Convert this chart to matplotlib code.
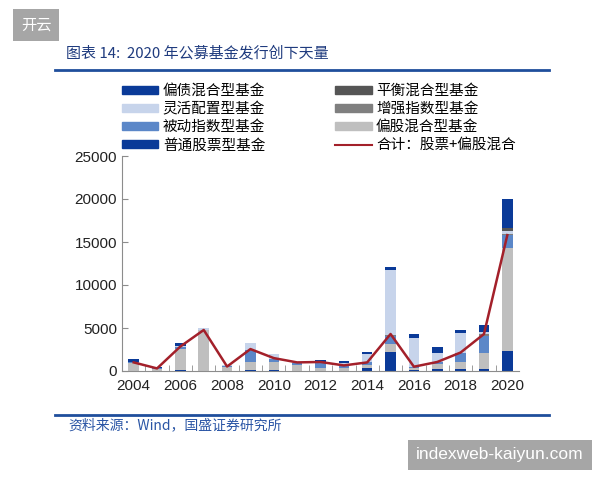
import numpy as np
import matplotlib
matplotlib.use("Agg")
import matplotlib.pyplot as plt
from matplotlib.patches import Patch
from matplotlib.lines import Line2D

plt.rcParams['font.family'] = ['Noto Sans CJK SC', 'DejaVu Sans']

years = np.arange(2004, 2021)

# 发行规模（亿份），自下而上堆叠
stock = [50, 0, 100, 50, 0, 150, 100, 0, 50, 50, 400, 2250, 150, 250, 250, 250, 2330]
equity_mix = [850, 200, 2450, 4700, 500, 950, 900, 650, 300, 300, 300, 850, 150, 550, 800, 1900, 12000]
passive_idx = [200, 100, 200, 0, 50, 1300, 400, 300, 700, 300, 300, 1000, 200, 300, 1050, 1950, 1460]
enhanced_idx = [0, 0, 0, 0, 0, 0, 0, 0, 0, 0, 0, 100, 0, 0, 0, 150, 100]
flexible = [0, 0, 100, 250, 150, 800, 600, 100, 0, 300, 1000, 7550, 3300, 950, 2350, 300, 400]
balanced = [0, 0, 0, 0, 0, 0, 0, 0, 0, 0, 0, 0, 0, 0, 0, 0, 300]
bond_mix = [250, 200, 400, 0, 0, 0, 0, 0, 250, 200, 250, 350, 500, 700, 350, 750, 3400]
total_line = [1000, 300, 2850, 4770, 520, 2550, 1500, 1000, 1050, 650, 1000, 4300, 500, 1050, 2150, 4300, 15800]

names = ['普通股票型基金', '偏股混合型基金', '被动指数型基金', '增强指数型基金',
         '灵活配置型基金', '平衡混合型基金', '偏债混合型基金']
series = [stock, equity_mix, passive_idx, enhanced_idx, flexible, balanced, bond_mix]
colors = ['#0A3A98', '#BFBFBF', '#5B87C8', '#7F7F7F', '#C7D4EB', '#555555', '#0A3A98']
line_name = '合计：股票+偏股混合'
line_color = '#A3202A'

fig = plt.figure(figsize=(6, 4.8), dpi=100)
ax = fig.add_axes([122 / 600, 109 / 480, 397 / 600, 215 / 480])

bottom = np.zeros(len(years))
for vals, c in zip(series, colors):
    ax.bar(years, vals, width=0.45, bottom=bottom, color=c, linewidth=0)
    bottom += np.array(vals)
ax.plot(years, total_line, color=line_color, linewidth=1.8)

ax.set_xlim(2003.5, 2020.5)
ax.set_ylim(0, 25000)
ax.set_yticks(np.arange(0, 25001, 5000))
ax.set_xticks(np.arange(2004, 2021, 2))
ax.set_xticks(np.arange(2004.5, 2020.5, 1), minor=True)
for s in ['top', 'right']:
    ax.spines[s].set_visible(False)
for s in ['left', 'bottom']:
    ax.spines[s].set_color('#8C8C8C')
ax.tick_params(axis='x', which='major', length=0, pad=6)
ax.tick_params(axis='x', which='minor', direction='in', length=4, color='#8C8C8C')
ax.tick_params(axis='y', direction='in', length=4, color='#8C8C8C')
for lab in ax.get_xticklabels() + ax.get_yticklabels():
    lab.set_fontfamily('Liberation Sans')
    lab.set_fontsize(11)
    lab.set_color('#222222')

# 图例：两列
handles = [Patch(color=colors[6]), Patch(color=colors[4]), Patch(color=colors[2]), Patch(color=colors[0]),
           Patch(color=colors[5]), Patch(color=colors[3]), Patch(color=colors[1]),
           Line2D([0], [0], color=line_color, linewidth=1.5)]
labels = [names[6], names[4], names[2], names[0], names[5], names[3], names[1], line_name]
fig.legend(handles, labels, ncol=2, loc='upper left', bbox_to_anchor=(122 / 600, 1 - 84 / 480),
           frameon=False, fontsize=10.5, handlelength=2.5, handleheight=0.45,
           handletextpad=0.3, columnspacing=4.8, labelspacing=0.28,
           borderpad=0, borderaxespad=0)

# 标题、分隔线、来源
fig.text(66 / 600, 1 - 53 / 480, '图表 14:  2020 年公募基金发行创下天量', fontsize=10.8,
         style='italic', color='#1F3B7E', va='center')
fig.add_artist(Line2D([55 / 600, 549 / 600], [1 - 69.5 / 480] * 2, color='#1F4E9C', linewidth=2))
fig.add_artist(Line2D([55 / 600, 549 / 600], [1 - 414.5 / 480] * 2, color='#1F4E9C', linewidth=2))
fig.text(68 / 600, 1 - 425 / 480, '资料来源：Wind，国盛证券研究所', fontsize=10,
         style='italic', color='#2A55A5', va='center')

# 水印
fig.text(36 / 600, 1 - 25 / 480, '开云', fontsize=11, color='white', ha='center', va='center',
         bbox=dict(boxstyle='square,pad=0.5', facecolor='#A6A6A6', edgecolor='none'))
fig.text(500 / 600, 1 - 455 / 480, 'indexweb-kaiyun.com', fontsize=12.5, color='white',
         ha='center', va='center', family=['Liberation Sans'],
         bbox=dict(boxstyle='square,pad=0.45', facecolor='#A6A6A6', edgecolor='none'))

fig.savefig('out.png', dpi=100)
